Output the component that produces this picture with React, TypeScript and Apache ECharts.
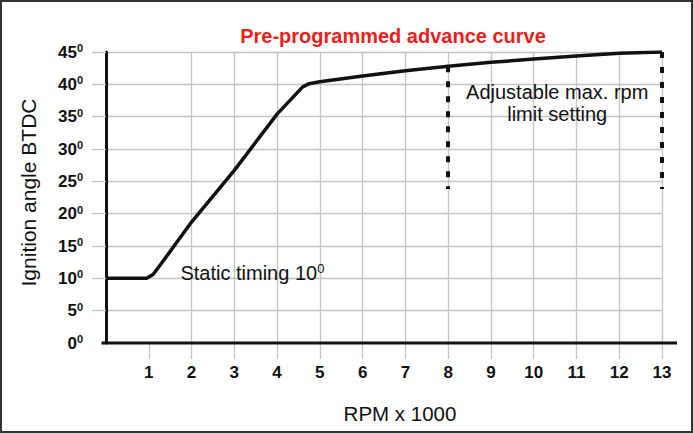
import React, { useEffect, useRef } from "react";
import * as echarts from "echarts";

// Curve
const rpm = [0, 0.95, 1.1, 1.25, 2, 3, 4, 4.6, 4.75, 5, 6, 7, 8, 9, 10, 11, 12, 13];
const angle = [10, 10, 10.6, 11.9, 18.7, 26.7, 35.4, 39.6, 40.1, 40.4, 41.3, 42.1, 42.8, 43.4, 43.9, 44.4, 44.8, 45];

// Adjustable limit (dashed verticals)
const limitRpm = [8, 13];
const limitTop = [42.8, 45];
const limitBottom = [23.8, 23.8];

// Tick labels
const xTicks = [1, 2, 3, 4, 5, 6, 7, 8, 9, 10, 11, 12, 13];
const yTicks = [0, 5, 10, 15, 20, 25, 30, 35, 40, 45];

const FONT = "'Liberation Sans', Arial, sans-serif";
const INK = "#111";
const GRIDC = "#c4c4c4";

export default function App() {
  const ref = useRef<HTMLDivElement>(null);

  useEffect(() => {
    if (!ref.current) return;
    const chart = echarts.init(ref.current, null, { renderer: "svg" });

    const gridLeft = 106;
    const gridRight = 31;
    const gridTop = 52;
    const gridBottom = 90;
    const W = 693;
    const H = 433;
    const axisY = H - gridBottom;

    const option: any = {
      animation: false,
      backgroundColor: "#fff",
      textStyle: { fontFamily: FONT },
      title: {
        text: "Pre-programmed advance curve",
        left: 388,
        textAlign: "center",
        top: 21,
        textStyle: { color: "#ea1f1a", fontSize: 20, fontWeight: "bold", fontFamily: FONT },
      },
      grid: { left: gridLeft, right: gridRight, top: gridTop, bottom: gridBottom },
      xAxis: {
        type: "value",
        min: 0,
        max: 13,
        interval: 1,
        name: "RPM x 1000",
        nameLocation: "middle",
        nameGap: 60,
        nameTextStyle: { fontSize: 20.5, color: INK, fontFamily: FONT, padding: [0, 0, 0, 32] },
        axisLine: { show: false },
        axisTick: {
          show: true,
          customValues: xTicks,
          length: 16,
          lineStyle: { color: GRIDC, width: 1.3 },
        },
        axisLabel: {
          customValues: xTicks,
          margin: 21,
          fontSize: 17,
          fontWeight: "bold",
          color: INK,
          fontFamily: FONT,
        },
        splitLine: { show: true, showMinLine: false, lineStyle: { color: GRIDC, width: 1.3 } },
      },
      yAxis: {
        type: "value",
        min: 0,
        max: 45,
        interval: 5,
        offset: 3,
        name: "Ignition angle BTDC",
        nameLocation: "middle",
        nameGap: 64,
        nameTextStyle: { fontSize: 21, color: INK, fontFamily: FONT, padding: [0, 0, 0, 10] },
        axisLine: { show: true, lineStyle: { color: INK, width: 3 } },
        axisTick: {
          show: true,
          customValues: yTicks.filter((v) => v > 0),
          length: 14,
          lineStyle: { color: GRIDC, width: 1.3 },
        },
        axisLabel: {
          customValues: yTicks,
          margin: 20,
          formatter: (v: number) => `{n|${v}}{s|0}`,
          rich: {
            n: { fontSize: 17, fontWeight: "bold", color: INK, fontFamily: FONT, lineHeight: 19 },
            s: { fontSize: 11, fontWeight: "bold", color: INK, fontFamily: FONT, lineHeight: 11, verticalAlign: "top" },
          },
        },
        splitLine: { show: true, lineStyle: { color: GRIDC, width: 1.3 } },
      },
      graphic: [
        {
          type: "line",
          shape: { x1: gridLeft - 4.5, y1: axisY, x2: 677, y2: axisY },
          style: { stroke: INK, lineWidth: 3 },
          z: 10,
        },
        {
          type: "rect",
          shape: { x: 1, y: 1, width: W - 2, height: H - 2 },
          style: { fill: "none", stroke: "#333", lineWidth: 2 },
          z: 10,
        },
      ],
      series: [
        {
          type: "line",
          data: rpm.map((x, i) => [x, angle[i]]),
          showSymbol: false,
          symbol: "none",
          lineStyle: { color: INK, width: 3.5, join: "round" },
          z: 5,
          markLine: {
            silent: true,
            symbol: "none",
            animation: false,
            label: { show: false },
            lineStyle: { color: INK, width: 4, type: [6, 9], cap: "butt" },
            data: limitRpm.map((x, i) => [
              { coord: [x, limitTop[i]] },
              { coord: [x, limitBottom[i]] },
            ]),
          },
          markPoint: {
            silent: true,
            symbol: "circle",
            symbolSize: 0,
            animation: false,
            data: [
              {
                coord: [1.74, 10.9],
                label: {
                  show: true,
                  position: "right",
                  distance: 0,
                  formatter: "{a|Static timing 10}{s|0}",
                  rich: {
                    a: { fontSize: 20, color: INK, fontFamily: FONT, lineHeight: 22 },
                    s: { fontSize: 13, color: INK, fontFamily: FONT, lineHeight: 13, verticalAlign: "top" },
                  },
                },
              },
              {
                coord: [10.55, 37.1],
                label: {
                  show: true,
                  position: "inside",
                  formatter: "Adjustable max. rpm\nlimit setting",
                  fontSize: 20,
                  lineHeight: 21.5,
                  align: "center",
                  color: INK,
                  fontFamily: FONT,
                },
              },
            ],
          },
        },
      ],
    };

    chart.setOption(option);
    return () => chart.dispose();
  }, []);

  return (
    <div
      ref={ref}
      style={{ position: "fixed", left: 0, top: 0, width: 693, height: 433, background: "#fff" }}
    />
  );
}
